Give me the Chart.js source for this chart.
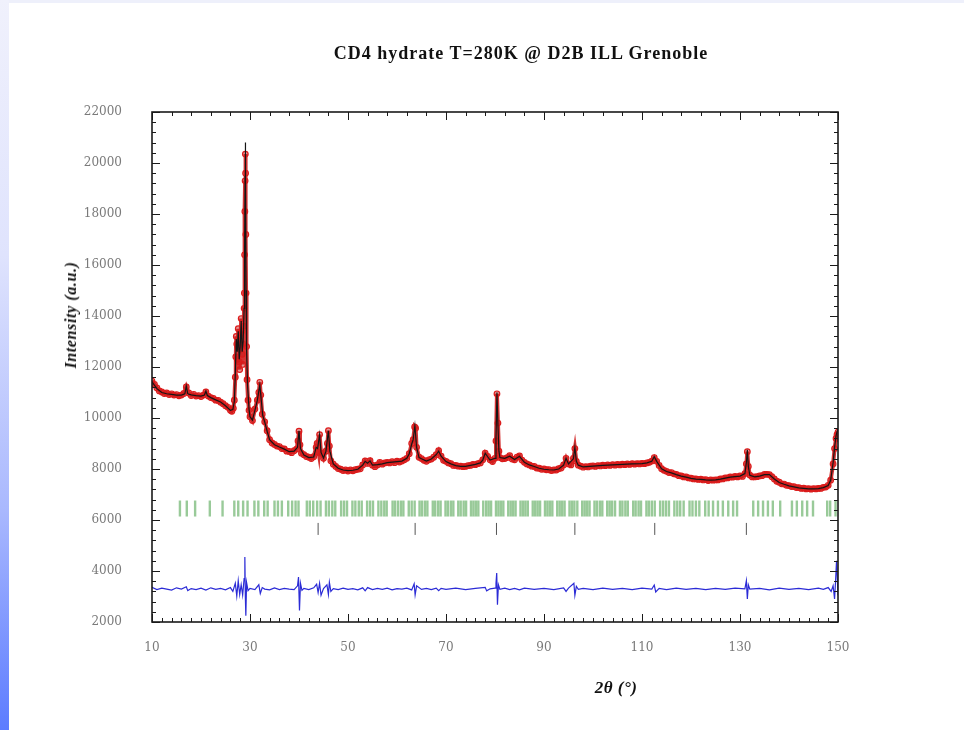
<!DOCTYPE html>
<html>
<head>
<meta charset="utf-8">
<script src="https://cdn.jsdelivr.net/npm/chart.js@4.4.1/dist/chart.umd.min.js"></script>
<style>
  html, body { margin: 0; padding: 0; background: #fff; }
  #wrap { position: relative; width: 964px; height: 730px; overflow: hidden; background: #fff; }
  #edge { position: absolute; left: 0; top: 0; width: 9px; height: 730px;
    background: linear-gradient(to bottom, #f0f1fc 0%, #dfe3fd 35%, #a9b8fe 70%, #5c7cff 100%); }
  #topband { position: absolute; left: 0; top: 0; width: 964px; height: 3px; background: #eef0fb; }
  canvas { position: absolute; left: 0; top: 0; }
  .lbl { position: absolute; font-family: 'Liberation Serif', 'DejaVu Serif', serif; font-weight: bold; color: #111; white-space: nowrap; }
  #title { left: 521px; top: 43px; transform: translateX(-50%); font-size: 18px; letter-spacing: 1px; }
  #xtitle { left: 616px; top: 678px; transform: translateX(-50%); font-size: 17px; font-style: italic; letter-spacing: 0.5px; }
  #ytitle { left: 71px; top: 315px; transform: translate(-50%, -50%) rotate(-90deg); font-size: 16px; font-style: italic; letter-spacing: 0.6px; }
</style>
</head>
<body>
<div id="wrap">
  <div id="topband"></div>
  <div id="edge"></div>
  <canvas id="chart" width="964" height="730"></canvas>
  <div class="lbl" id="title">CD4 hydrate T=280K @ D2B ILL Grenoble</div>
  <div class="lbl" id="xtitle">2θ (°)</div>
  <div class="lbl" id="ytitle">Intensity (a.u.)</div>
</div>
<script>
// observed points (2theta, counts)
const twoTheta = [
  10, 10.5, 11, 11.5, 12, 12.5, 13, 13.5, 14, 14.5,
  15, 15.5, 16, 16.5, 17, 17.5, 18, 18.5, 19, 19.5,
  20, 20.5, 21, 21.5, 22, 22.5, 23, 23.5, 24, 24.5,
  25, 25.5, 26, 26.3, 26.6, 26.8, 27, 27.1, 27.2, 27.3,
  27.4, 27.5, 27.6, 27.7, 27.8, 27.9, 28, 28.1, 28.2, 28.3,
  28.4, 28.5, 28.6, 28.7, 28.8, 28.85, 28.9, 28.95, 29, 29.05,
  29.1, 29.15, 29.2, 29.3, 29.4, 29.6, 29.8, 30, 30.5, 31,
  31.5, 31.8, 32, 32.2, 32.5, 33, 33.5, 34, 34.5, 35,
  35.5, 36, 36.5, 37, 37.5, 38, 38.5, 39, 39.5, 39.8,
  40, 40.2, 40.5, 41, 41.5, 42, 42.5, 43, 43.5, 43.7,
  44, 44.2, 44.5, 45, 45.5, 45.8, 46, 46.2, 46.5, 47,
  47.5, 48, 48.5, 49, 49.5, 50, 50.5, 51, 51.5, 52,
  52.5, 53, 53.5, 54, 54.5, 55, 55.5, 56, 56.5, 57,
  57.5, 58, 58.5, 59, 59.5, 60, 60.5, 61, 61.5, 62,
  62.5, 63, 63.3, 63.6, 63.8, 64, 64.5, 65, 65.5, 66,
  66.5, 67, 67.5, 68, 68.5, 69, 69.5, 70, 70.5, 71,
  71.5, 72, 72.5, 73, 73.5, 74, 74.5, 75, 75.5, 76,
  76.5, 77, 77.5, 78, 78.5, 79, 79.5, 80, 80.2, 80.4,
  80.6, 80.8, 81, 81.5, 82, 82.5, 83, 83.5, 84, 84.5,
  85, 85.5, 86, 86.5, 87, 87.5, 88, 88.5, 89, 89.5,
  90, 90.5, 91, 91.5, 92, 92.5, 93, 93.5, 94, 94.5,
  95, 95.5, 96, 96.3, 96.6, 97, 97.5, 98, 98.5, 99,
  99.5, 100, 100.5, 101, 101.5, 102, 102.5, 103, 103.5, 104,
  104.5, 105, 105.5, 106, 106.5, 107, 107.5, 108, 108.5, 109,
  109.5, 110, 110.5, 111, 111.5, 112, 112.5, 113, 113.5, 114,
  114.5, 115, 115.5, 116, 116.5, 117, 117.5, 118, 118.5, 119,
  119.5, 120, 120.5, 121, 121.5, 122, 122.5, 123, 123.5, 124,
  124.5, 125, 125.5, 126, 126.5, 127, 127.5, 128, 128.5, 129,
  129.5, 130, 130.5, 131, 131.3, 131.5, 131.7, 132, 132.5, 133,
  133.5, 134, 134.5, 135, 135.5, 136, 136.5, 137, 137.5, 138,
  138.5, 139, 139.5, 140, 140.5, 141, 141.5, 142, 142.5, 143,
  143.5, 144, 144.5, 145, 145.5, 146, 146.5, 147, 147.5, 148,
  148.5, 149, 149.3, 149.6, 149.8, 150
];
const observed = [
  11450, 11320, 11180, 11060, 11020, 10960, 10980, 10920, 10950, 10900,
  10920, 10870, 10900, 10960, 11220, 10980, 10880, 10930, 10860, 10880,
  10840, 10900, 11020, 10860, 10800, 10770, 10700, 10690, 10620, 10560,
  10480, 10420, 10300, 10260, 10380, 10700, 11600, 12400, 13200, 12900,
  12300, 12800, 13500, 13100, 12200, 11900, 12700, 13300, 13900, 13400,
  12500, 12100, 12900, 13600, 14300, 14900, 16400, 18100, 19300, 20350,
  19600, 17200, 14900, 12800, 11500, 10700, 10300, 10050, 9900, 10350,
  10700, 11000, 11400, 10900, 10150, 9850, 9500, 9150, 9020, 8960,
  8900, 8880, 8800, 8790, 8700, 8690, 8640, 8720, 8780, 9100,
  9480, 8950, 8620, 8560, 8490, 8460, 8410, 8480, 8850, 9000,
  8650, 9350, 8620, 8420, 8700, 9000, 9500, 8900, 8320, 8190,
  8100, 8020, 7990, 7940, 7960, 7920, 7960, 7930, 7970, 7990,
  8010, 8160, 8320, 8220, 8330, 8150, 8090, 8160, 8260, 8190,
  8240, 8260, 8240, 8290, 8250, 8310, 8270, 8310, 8360, 8420,
  8600, 9000, 9150, 9650, 9600, 8850, 8460, 8410, 8340, 8300,
  8360, 8390, 8460, 8560, 8720, 8500, 8340, 8300, 8240, 8210,
  8140, 8140, 8110, 8110, 8090, 8100, 8130, 8140, 8180, 8170,
  8210, 8240, 8360, 8620, 8490, 8360, 8290, 8420, 9100, 10950,
  9800, 8700, 8450, 8400, 8410, 8450, 8520, 8390, 8360, 8460,
  8510, 8350, 8260, 8200, 8160, 8110, 8100, 8040, 8030, 7990,
  8000, 7970, 7970, 7940, 7960, 7960, 8010, 8040, 8160, 8420,
  8200, 8160, 8420, 8800, 8300, 8150, 8110, 8070, 8090, 8080,
  8110, 8120, 8100, 8130, 8120, 8150, 8130, 8160, 8140, 8170,
  8150, 8180, 8160, 8190, 8170, 8200, 8180, 8210, 8190, 8210,
  8200, 8220, 8210, 8240, 8260, 8310, 8450, 8300, 8140, 8010,
  7950, 7910, 7860, 7860, 7810, 7790, 7740, 7730, 7690, 7690,
  7650, 7640, 7610, 7610, 7590, 7600, 7570, 7580, 7550, 7570,
  7560, 7570, 7570, 7610, 7610, 7650, 7650, 7690, 7680, 7710,
  7690, 7730, 7710, 7820, 8200, 8680, 8100, 7760, 7690, 7690,
  7700, 7730, 7740, 7790, 7790, 7780, 7700, 7610, 7520, 7480,
  7420, 7410, 7360, 7350, 7310, 7310, 7270, 7270, 7240, 7250,
  7220, 7230, 7210, 7230, 7220, 7240, 7240, 7280, 7290, 7360,
  7560, 8200, 8800, 9200, 9350, 9450
];

// calculated profile
const calcTheta = [
  10, 11, 12, 13, 14, 15, 16, 16.7, 17, 17.3,
  18, 19, 20, 20.7, 21, 21.3, 22, 23, 24, 25,
  26, 26.5, 26.8, 27, 27.2, 27.4, 27.6, 27.8, 28, 28.2,
  28.4, 28.6, 28.8, 28.9, 29, 29.05, 29.1, 29.2, 29.3, 29.5,
  29.8, 30, 30.5, 31, 31.5, 32, 32.3, 32.6, 33, 33.5,
  34, 35, 36, 37, 38, 39, 39.7, 40, 40.3, 41,
  42, 43, 43.5, 43.8, 44.2, 44.5, 45, 45.5, 46, 46.3,
  47, 48, 49, 50, 51, 52, 53, 53.5, 54, 54.5,
  55, 56, 57, 58, 59, 60, 61, 62, 62.5, 63,
  63.3, 63.65, 64, 64.5, 65, 66, 67, 68, 68.5, 69,
  70, 71, 72, 73, 74, 75, 76, 77, 77.5, 78,
  78.5, 79, 80, 80.2, 80.4, 80.6, 80.8, 81, 82, 83,
  84, 85, 86, 87, 88, 89, 90, 91, 92, 93,
  94, 94.5, 95, 96, 96.3, 96.6, 97, 98, 100, 102,
  104, 106, 108, 110, 111, 112, 112.5, 113, 114, 115,
  116, 117, 118, 119, 120, 121, 122, 123, 124, 125,
  126, 127, 128, 129, 130, 131, 131.3, 131.5, 131.7, 132,
  133, 134, 135, 136, 137, 138, 139, 140, 141, 142,
  143, 144, 145, 146, 147, 148, 148.5, 149, 149.3, 149.6,
  150
];
const calculated = [
  11420, 11150, 11000, 10950, 10930, 10900, 10900, 10950, 11250, 10950,
  10910, 10880, 10860, 10900, 11050, 10880, 10800, 10710, 10630, 10480,
  10300, 10330, 10650, 11700, 13100, 12600, 13400, 12300, 12800, 13800,
  12600, 13000, 14300, 16600, 19500, 20800, 19400, 15000, 12700, 11300,
  10350, 10050, 9920, 10300, 10700, 11300, 10700, 10100, 9850, 9480,
  9150, 8950, 8860, 8780, 8680, 8700, 8850, 9500, 8800, 8550,
  8450, 8470, 8850, 8800, 9350, 8650, 8430, 8700, 9500, 8700,
  8200, 8030, 7960, 7940, 7950, 7990, 8150, 8300, 8230, 8320,
  8150, 8170, 8200, 8250, 8270, 8290, 8310, 8420, 8600, 8980,
  9150, 9700, 8850, 8450, 8400, 8310, 8390, 8560, 8700, 8500,
  8290, 8200, 8130, 8100, 8100, 8140, 8180, 8240, 8350, 8620,
  8480, 8350, 8420, 9200, 11000, 9700, 8700, 8450, 8420, 8500,
  8370, 8500, 8260, 8160, 8100, 8030, 7990, 7970, 7960, 8000,
  8150, 8420, 8200, 8400, 8850, 8300, 8150, 8080, 8110, 8140,
  8160, 8180, 8200, 8210, 8240, 8300, 8480, 8300, 8010, 7900,
  7850, 7780, 7720, 7680, 7630, 7600, 7590, 7570, 7560, 7570,
  7600, 7640, 7680, 7700, 7720, 7820, 8250, 8750, 8100, 7750,
  7690, 7720, 7780, 7780, 7610, 7470, 7400, 7340, 7300, 7260,
  7240, 7220, 7220, 7230, 7270, 7350, 7560, 8250, 8850, 9300,
  9600
];

// obs - calc, shifted
const diffTheta = [
  10, 11, 12, 13, 14, 15, 16, 17, 17.3, 18,
  19, 20, 21, 22, 23, 24, 25, 26, 26.5, 27,
  27.3, 27.6, 27.9, 28.2, 28.5, 28.8, 28.95, 29.05, 29.15, 29.3,
  29.6, 30, 31, 31.8, 32.1, 32.5, 33, 34, 35, 36,
  37, 38, 39, 39.7, 39.9, 40.1, 40.3, 40.6, 41, 42,
  43, 43.6, 43.9, 44.2, 44.5, 45, 45.7, 46, 46.2, 46.5,
  47, 48, 49, 50, 51, 52, 53, 53.5, 54, 55,
  56, 57, 58, 59, 60, 61, 62, 63, 63.5, 63.7,
  64, 65, 66, 67, 68, 68.5, 69, 70, 72, 74,
  76, 78, 78.3, 79, 80, 80.2, 80.35, 80.5, 80.7, 81,
  82, 83, 84, 85, 86, 88, 90, 92, 94, 94.5,
  95, 96.1, 96.3, 96.6, 97, 98, 100, 102, 104, 106,
  108, 110, 112, 112.5, 112.8, 113.5, 115, 117, 119, 121,
  123, 125, 127, 129, 131, 131.3, 131.5, 131.7, 132, 134,
  136, 138, 140, 142, 144, 146, 147, 148, 148.6, 149,
  149.3, 149.5, 149.7, 150
];
const difference = [
  3360, 3270, 3330, 3290, 3250, 3340, 3290, 3380, 3230, 3310,
  3270, 3330, 3250, 3340, 3280, 3320, 3260, 3350, 3200, 3520,
  3020, 3620, 3080, 3460, 3060, 3700, 4550, 3000, 2250, 3550,
  3230, 3320, 3270, 3460, 3120, 3350, 3290, 3260, 3340, 3270,
  3320, 3290, 3270, 3420, 3760, 2450, 3520, 3240, 3320, 3270,
  3340, 3480, 3150, 3520, 3050, 3310, 3460, 3080, 3560, 3200,
  3310, 3270, 3330, 3280, 3310, 3260, 3340, 3220, 3350, 3270,
  3320, 3280, 3330, 3260, 3310, 3290, 3330, 3260, 3500, 3060,
  3420, 3280, 3320, 3270, 3330, 3230, 3320, 3280, 3330, 3270,
  3320, 3360, 3220, 3300, 3330, 3520, 3920, 2680, 3460, 3280,
  3330, 3270, 3320, 3260, 3330, 3280, 3320, 3270, 3340, 3200,
  3330, 3520, 3050, 3400, 3280, 3320, 3270, 3330, 3280, 3320,
  3270, 3330, 3290, 3450, 3180, 3320, 3270, 3330, 3280, 3320,
  3270, 3320, 3280, 3330, 3300, 3620, 2900, 3460, 3290, 3320,
  3260, 3330, 3280, 3320, 3270, 3330, 3280, 3350, 3200, 3420,
  2900, 3600, 4400, 3050
];

// Bragg reflection positions
const braggHydrate = [
  15.7, 17.1, 18.8, 21.8, 24.4, 26.8, 27.6, 28.6, 29.5, 30.9,
  31.7, 32.9, 33.6, 35.0, 35.7, 36.5, 37.8, 38.6, 39.3, 39.9,
  41.6, 42.2, 42.9, 43.7, 44.4, 45.5, 46.1, 46.8, 47.4, 48.6,
  49.2, 49.8, 50.9, 51.5, 52.2, 52.8, 53.9, 54.5, 55.1, 56.2,
  56.8, 57.4, 57.9, 59.1, 59.6, 60.2, 60.8, 61.3, 62.4, 63.0,
  63.6, 64.6, 65.1, 65.7, 66.2, 67.3, 67.8, 68.4, 68.9, 69.9,
  70.4, 71.0, 71.5, 72.5, 73.0, 73.6, 74.1, 75.1, 75.6, 76.1,
  76.6, 77.6, 78.2, 78.7, 79.2, 80.2, 80.7, 81.2, 81.7, 82.7,
  83.2, 83.7, 84.2, 85.2, 85.7, 86.2, 86.7, 87.7, 88.2, 88.7,
  89.2, 90.2, 90.7, 91.2, 91.7, 92.7, 93.2, 93.7, 94.2, 95.2,
  95.7, 96.2, 96.8, 97.8, 98.3, 98.8, 99.3, 100.3, 100.8, 101.4,
  101.9, 102.9, 103.4, 103.9, 104.5, 105.5, 106.0, 106.6, 107.1, 108.2,
  108.7, 109.3, 109.8, 110.9, 111.4, 112.0, 112.6, 113.7, 114.3, 114.9,
  115.5, 116.6, 117.2, 117.8, 118.5, 119.7, 120.3, 121.0, 121.7, 122.9,
  123.6, 124.5, 125.5, 126.5, 127.6, 128.6, 129.4, 132.7, 133.7, 134.7,
  135.7, 136.7, 138.2, 140.6, 141.6, 142.7, 143.7, 144.9, 147.8, 148.4,
  149.5
];
const braggSecond = [43.9, 63.7, 80.3, 96.3, 112.6, 131.3];
const braggRowHydrate = 6450;
const braggRowSecond = 5650;

const xTicks = [10, 30, 50, 70, 90, 110, 130, 150];

const pts = (xs, ys) => xs.map((x, i) => ({ x, y: ys[i] }));

// frame + inward ticks on all four sides
const frameTicks = {
  id: 'frameTicks',
  afterDatasetsDraw(chart) {
    const { ctx, chartArea: a, scales: { x, y } } = chart;
    ctx.save();
    ctx.strokeStyle = '#1a1a1a';
    ctx.lineWidth = 1;
    ctx.beginPath();
    for (let v = 10; v <= 150; v += 2) {
      const px = Math.round(x.getPixelForValue(v)) + 0.5;
      const len = (v - 10) % 20 === 0 ? 8 : 4;
      ctx.moveTo(px, a.bottom); ctx.lineTo(px, a.bottom - len);
    }
    for (let v = 10; v <= 150; v += 4) {
      const px = Math.round(x.getPixelForValue(v)) + 0.5;
      const len = (v - 10) % 20 === 0 ? 8 : 4;
      ctx.moveTo(px, a.top); ctx.lineTo(px, a.top + len);
    }
    for (let v = 2000; v <= 22000; v += 400) {
      const py = Math.round(y.getPixelForValue(v)) + 0.5;
      const len = v % 2000 === 0 ? 8 : 4;
      ctx.moveTo(a.left, py); ctx.lineTo(a.left + len, py);
      ctx.moveTo(a.right, py); ctx.lineTo(a.right - len, py);
    }
    ctx.stroke();
    ctx.lineWidth = 1.6;
    ctx.strokeRect(a.left, a.top, a.right - a.left, a.bottom - a.top);
    ctx.restore();
  }
};

const tickFont = { family: "'DejaVu Serif', 'Liberation Serif', serif", size: 12 };

new Chart(document.getElementById('chart'), {
  type: 'scatter',
  data: {
    datasets: [
      {
        label: 'Calculated',
        data: pts(calcTheta, calculated),
        showLine: true,
        borderColor: '#151515',
        borderWidth: 1.2,
        pointRadius: 0,
        order: 0
      },
      {
        label: 'Observed',
        data: pts(twoTheta, observed),
        showLine: true,
        borderColor: 'rgba(205, 15, 15, 0.85)',
        borderWidth: 4,
        pointRadius: 2.8,
        pointBorderWidth: 1.2,
        pointBorderColor: '#dc1c1c',
        pointBackgroundColor: 'rgba(200, 25, 25, 0.45)',
        order: 1
      },
      {
        label: 'Difference',
        data: pts(diffTheta, difference),
        showLine: true,
        borderColor: '#2b2bd6',
        borderWidth: 1.2,
        pointRadius: 0,
        order: 2
      },
      {
        label: 'Hydrate reflections',
        data: braggHydrate.map(t => ({ x: t, y: braggRowHydrate })),
        pointStyle: 'line',
        rotation: 90,
        pointRadius: 8,
        pointBorderWidth: 2.4,
        pointBorderColor: 'rgba(110, 180, 110, 0.7)',
        order: 3
      },
      {
        label: 'Second phase',
        data: braggSecond.map(t => ({ x: t, y: braggRowSecond })),
        pointStyle: 'line',
        rotation: 90,
        pointRadius: 6,
        pointBorderWidth: 1,
        pointBorderColor: '#555',
        order: 3
      }
    ]
  },
  options: {
    responsive: false,
    animation: false,
    events: [],
    layout: { padding: { left: 52, right: 126, top: 112, bottom: 0 } },
    plugins: {
      legend: { display: false },
      tooltip: { enabled: false },
      title: { display: false }
    },
    scales: {
      x: {
        type: 'linear',
        min: 10,
        max: 150,
        afterFit(s) { s.height = 108; },
        afterBuildTicks(s) { s.ticks = xTicks.map(v => ({ value: v })); },
        grid: { display: false, drawTicks: false },
        border: { display: false },
        ticks: { padding: 19, color: '#7a7a7a', font: tickFont, maxRotation: 0, callback: v => String(v) }
      },
      y: {
        min: 2000,
        max: 22000,
        afterFit(s) { s.width = 100; },
        grid: { display: false, drawTicks: false },
        border: { display: false },
        ticks: { stepSize: 2000, padding: 30, color: '#7a7a7a', font: tickFont, callback: v => String(v) }
      }
    }
  },
  plugins: [frameTicks]
});
</script>
</body>
</html>
